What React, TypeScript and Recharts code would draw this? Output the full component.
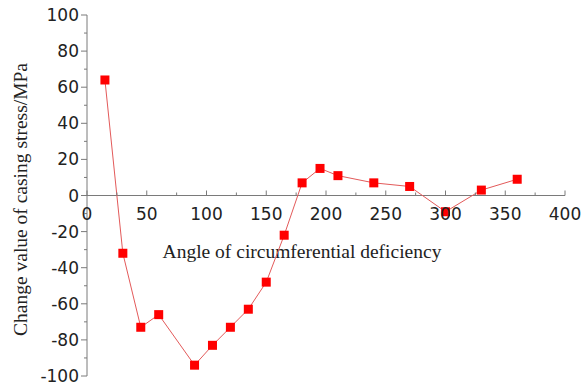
import { LineChart, Line, XAxis, YAxis, ReferenceLine } from 'recharts'

const angles = [15, 30, 45, 60, 90, 105, 120, 135, 150, 165, 180, 195, 210, 240, 270, 300, 330, 360]
const stress = [64, -32, -73, -66, -94, -83, -73, -63, -48, -22, 7, 15, 11, 7, 5, -9, 3, 9]

const xTicks = [0, 25, 50, 75, 100, 125, 150, 175, 200, 225, 250, 275, 300, 325, 350, 375, 400]
const yTicks = [-100, -90, -80, -70, -60, -50, -40, -30, -20, -10, 0, 10, 20, 30, 40, 50, 60, 70, 80, 90, 100]

const data = angles.map((a, i) => ({ angle: a, stress: stress[i] }))

const W = 582
const H = 386
const MARGIN = { top: 15, right: 17, left: 0, bottom: 0 }
const X_AXIS_H = 10
const PLOT_H = H - MARGIN.top - MARGIN.bottom - X_AXIS_H
const AXIS_COLOR = '#7a7a7a'
const TICK_FONT = '"DejaVu Sans", Arial, sans-serif'
const LABEL_FONT = '"Liberation Serif", "Times New Roman", serif'

function XTick(props: any) {
  const { x, y, payload } = props
  const y0 = y - PLOT_H / 2 // x axis sits on the zero line
  const major = payload.value % 50 === 0
  return (
    <g>
      <line x1={x} x2={x} y1={y0} y2={y0 - (major ? 5 : 3)} stroke={AXIS_COLOR} />
      {major && (
        <text x={x} y={y0 + 18} textAnchor="middle" dominantBaseline="central"
          fontFamily={TICK_FONT} fontSize={17} fill="#222">
          {payload.value}
        </text>
      )}
    </g>
  )
}

function YTick(props: any) {
  const { x, y, payload } = props
  const major = payload.value % 20 === 0
  return (
    <g>
      <line x1={x} x2={x - (major ? 6 : 3)} y1={y} y2={y} stroke={AXIS_COLOR} />
      {major && (
        <text x={x - 8} y={y} textAnchor="end" dominantBaseline="central"
          fontFamily={TICK_FONT} fontSize={17} fill="#222">
          {payload.value}
        </text>
      )}
    </g>
  )
}

function Square(props: any) {
  const { cx, cy } = props
  if (cx == null || cy == null) return null
  return <rect x={cx - 4.5} y={cy - 4.5} width={9} height={9} fill="#ff0000" />
}

export default function App() {
  return (
    <div style={{ position: 'absolute', left: 0, top: 0, background: '#fff' }}>
      <LineChart width={W} height={H} data={data} margin={MARGIN}>
        <XAxis
          dataKey="angle"
          type="number"
          domain={[0, 400]}
          ticks={xTicks}
          interval={0}
          axisLine={false}
          tickLine={false}
          tickSize={0}
          tickMargin={0}
          height={X_AXIS_H}
          tick={<XTick />}
        />
        <YAxis
          type="number"
          domain={[-100, 100]}
          ticks={yTicks}
          interval={0}
          width={87}
          axisLine={{ stroke: AXIS_COLOR }}
          tickLine={false}
          tickSize={0}
          tickMargin={0}
          tick={<YTick />}
          label={{
            content: (p: any) => {
              const cy = p.viewBox.y + p.viewBox.height / 2 + 4
              return (
                <text x={20} y={cy} transform={`rotate(-90, 20, ${cy})`} textAnchor="middle"
                  dominantBaseline="central" fontFamily={LABEL_FONT} fontSize={19.5} fill="#222">
                  Change value of casing stress/MPa
                </text>
              )
            },
          }}
        />
        <ReferenceLine
          y={0}
          stroke={AXIS_COLOR}
          label={{
            content: (p: any) => (
              <text x={302} y={p.viewBox.y + 56} textAnchor="middle" dominantBaseline="central"
                fontFamily={LABEL_FONT} fontSize={19.5} fill="#222">
                Angle of circumferential deficiency
              </text>
            ),
          }}
        />
        <Line
          dataKey="stress"
          stroke="#e35a5a"
          strokeWidth={1}
          dot={<Square />}
          activeDot={false}
          isAnimationActive={false}
        />
      </LineChart>
    </div>
  )
}
